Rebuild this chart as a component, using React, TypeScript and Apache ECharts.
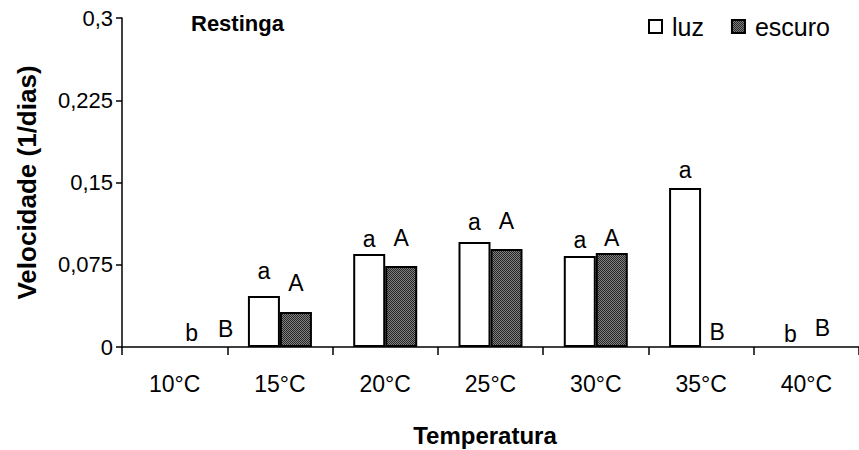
import React, { useEffect, useRef } from "react";
import * as echarts from "echarts";

const categories = ["10°C", "15°C", "20°C", "25°C", "30°C", "35°C", "40°C"];
const luzValues = [0, 0.0465, 0.0848, 0.0957, 0.083, 0.145, 0];
const escuroValues = [0, 0.032, 0.0739, 0.0894, 0.0857, 0, 0];
const luzLetters = ["b", "a", "a", "a", "a", "a", "b"];
const escuroLetters = ["B", "A", "A", "A", "A", "B", "B"];
const luzLetterHeights = [0.0128, 0.0693, 0.0985, 0.114, 0.0976, 0.161, 0.0119];
const escuroLetterHeights = [0.0164, 0.0584, 0.0994, 0.115, 0.0994, 0.0137, 0.0173];
const yTicks = { min: 0, max: 0.3, interval: 0.075 };

const FONT = "'Liberation Sans', Arial, sans-serif";

function makePattern(): HTMLCanvasElement {
  const c = document.createElement("canvas");
  c.width = 2;
  c.height = 2;
  const ctx = c.getContext("2d")!;
  ctx.fillStyle = "#262626";
  ctx.fillRect(0, 0, 2, 2);
  ctx.fillStyle = "#808080";
  ctx.fillRect(1, 0, 1, 1);
  ctx.fillRect(0, 1, 1, 1);
  return c;
}

export default function App() {
  const ref = useRef<HTMLDivElement>(null);
  useEffect(() => {
    if (!ref.current) return;
    const chart = echarts.init(ref.current, null, { renderer: "svg" });
    const pattern = { image: makePattern(), repeat: "repeat" } as any;
    const letterLabel = (letters: string[], dx: number) => ({
      show: true,
      position: "inside",
      offset: [dx, 0],
      formatter: (p: any) => letters[p.dataIndex],
      fontSize: 23,
      fontFamily: FONT,
      color: "#000",
      opacity: 1,
    });
    const hideZero = (arr: number[]) => arr.map((v) => (v === 0 ? "-" : v));
    chart.setOption({
      animation: false,
      backgroundColor: "#fff",
      textStyle: { fontFamily: FONT, color: "#000" },
      grid: { left: 122, top: 18, width: 740, height: 329 },
      legend: {
        data: ["luz", "escuro"],
        left: 643,
        top: 9,
        itemWidth: 13,
        itemHeight: 13,
        itemGap: 27,
        icon: "rect",
        textStyle: { fontSize: 25, fontFamily: FONT, color: "#000", padding: [0, 0, 0, 5] },
      },
      graphic: [
        {
          type: "text",
          left: 191,
          top: 12,
          style: { text: "Restinga", font: `bold 22px ${FONT}`, fill: "#000" },
        },
        {
          type: "text",
          x: 485,
          y: 435,
          style: {
            text: "Temperatura",
            font: `bold 24px ${FONT}`,
            fill: "#000",
            align: "center",
            verticalAlign: "middle",
          },
        },
      ],
      xAxis: {
        type: "category",
        data: categories,
        boundaryGap: true,
        axisLine: { lineStyle: { color: "#000", width: 1.5 } },
        axisTick: { show: true, inside: false, length: 8, alignWithLabel: false, lineStyle: { color: "#000", width: 1.5 } },
        axisLabel: { fontSize: 23, color: "#000", margin: 25, fontFamily: FONT },
        splitLine: { show: false },
      },
      yAxis: {
        type: "value",
        min: yTicks.min,
        max: yTicks.max,
        interval: yTicks.interval,
        name: "Velocidade (1/dias)",
        nameLocation: "middle",
        nameGap: 82,
        nameTextStyle: { fontSize: 26, fontWeight: "bold", color: "#000", fontFamily: FONT },
        axisLine: { show: true, lineStyle: { color: "#000", width: 1.5 } },
        axisTick: { show: true, inside: false, length: 6, lineStyle: { color: "#000", width: 1.5 } },
        axisLabel: {
          fontSize: 22,
          color: "#000",
          margin: 9,
          fontFamily: FONT,
          formatter: (v: number) => String(Math.round(v * 1000) / 1000).replace(".", ","),
        },
        splitLine: { show: false },
      },
      series: [
        {
          name: "luz",
          type: "bar",
          data: hideZero(luzValues),
          barWidth: 32,
          barGap: "0%",
          itemStyle: { color: "#fff", borderColor: "#000", borderWidth: 2 },
        },
        {
          name: "escuro",
          type: "bar",
          data: hideZero(escuroValues),
          barWidth: 32,
          barGap: "0%",
          itemStyle: { color: pattern, borderColor: "#000", borderWidth: 2 },
        },
        {
          name: "luzLetters",
          type: "scatter",
          symbol: "circle",
          symbolSize: 1,
          itemStyle: { color: "rgba(0,0,0,0)", opacity: 1 },
          data: luzLetterHeights.map((v, i) => (i === 0 ? { value: v, label: { offset: [17, 0] } } : v)),
          label: letterLabel(luzLetters, -16),
          silent: true,
        },
        {
          name: "escuroLetters",
          type: "scatter",
          symbol: "circle",
          symbolSize: 1,
          itemStyle: { color: "rgba(0,0,0,0)", opacity: 1 },
          data: escuroLetterHeights.map((v, i) => (i === 0 ? { value: v, label: { offset: [51, 0] } } : v)),
          label: letterLabel(escuroLetters, 16),
          silent: true,
        },
      ],
    });
    return () => chart.dispose();
  }, []);
  return (
    <div
      ref={ref}
      style={{ position: "absolute", left: 0, top: 0, width: 859, height: 450 }}
    />
  );
}
